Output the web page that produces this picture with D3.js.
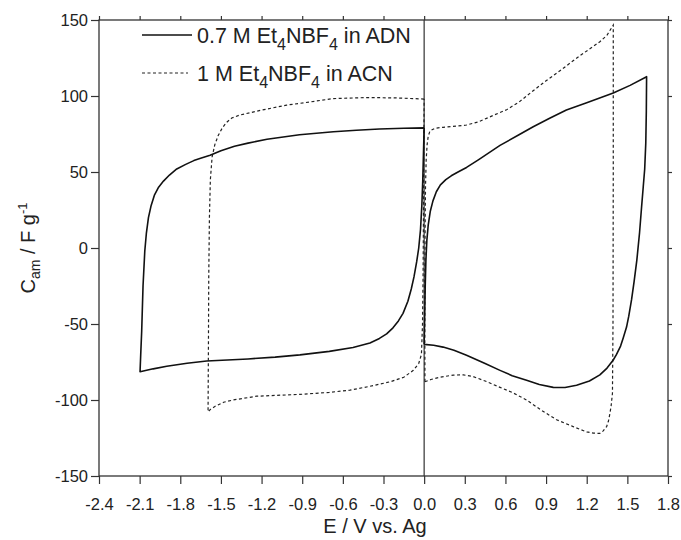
<!DOCTYPE html>
<html>
<head>
<meta charset="utf-8">
<script src="https://cdn.jsdelivr.net/npm/d3@7"></script>
<style>
  body { margin: 0; background: #fff; }
  text { font-family: "Liberation Sans", Arial, sans-serif; fill: #222; }
</style>
</head>
<body>
<div id="chart"></div>
<script>
// 0.7 M Et4NBF4 in ADN, negative half cycle [E (V), C (F/g)]
const adnNeg = [
  [0, 79], [-0.15, 78.8], [-0.33, 78.3], [-0.5, 77.5], [-0.67, 76.5], [-0.92, 74.5],
  [-1.16, 71.5], [-1.3, 69], [-1.4, 67], [-1.5, 64], [-1.58, 61], [-1.65, 59],
  [-1.70, 57.5], [-1.76, 55], [-1.826, 52], [-1.88, 48], [-1.924, 44], [-1.96, 40],
  [-1.99, 35], [-2.015, 28], [-2.035, 20], [-2.05, 10], [-2.062, -2], [-2.075, -25],
  [-2.085, -55], [-2.092, -70], [-2.097, -81.4],
  [-2.0, -79.5], [-1.9, -77.8], [-1.75, -75.8], [-1.605, -74.3], [-1.3, -73],
  [-1.1, -71.8], [-0.917, -70.3], [-0.7, -68], [-0.525, -65.5], [-0.4, -62.5],
  [-0.33, -59.5], [-0.277, -56.5], [-0.23, -52.5], [-0.19, -48], [-0.156, -43],
  [-0.12, -35], [-0.095, -27], [-0.075, -19], [-0.055, -9], [-0.04, 0],
  [-0.027, 12], [-0.017, 28], [-0.01, 45], [-0.005, 62], [0, 79]
];
// 0.7 M Et4NBF4 in ADN, positive half cycle
const adnPos = [
  [0, -63.4], [0.004, -45], [0.008, -25], [0.013, -8], [0.02, 5], [0.03, 15],
  [0.045, 24], [0.065, 31], [0.09, 37], [0.12, 41.5], [0.16, 45], [0.2, 47.5],
  [0.25, 50], [0.313, 53], [0.4, 58], [0.56, 67.5], [0.7, 74.5], [0.805, 79.8],
  [0.93, 85.5], [1.05, 90.8], [1.2, 95.5], [1.396, 102], [1.52, 107], [1.642, 112.7],
  [1.640, 90], [1.636, 69], [1.628, 52], [1.617, 40], [1.605, 27], [1.59, 10],
  [1.57, -8], [1.55, -22], [1.531, -34], [1.51, -45], [1.494, -52], [1.47, -59],
  [1.45, -64.5], [1.42, -70], [1.396, -73.7], [1.35, -79], [1.297, -83.5],
  [1.22, -87.5], [1.125, -90.3], [1.04, -91.8], [0.953, -91.7], [0.85, -89.8],
  [0.756, -87], [0.65, -84], [0.56, -80.5], [0.45, -76], [0.313, -70.5],
  [0.22, -67.3], [0.14, -65.2], [0.07, -64], [0, -63.4]
];
// 1 M Et4NBF4 in ACN, negative half cycle
const acnNeg = [
  [0, 98], [-0.2, 98.7], [-0.42, 99], [-0.67, 98.3], [-0.85, 96], [-1.015, 94],
  [-1.21, 90.5], [-1.36, 87.5], [-1.42, 85.5], [-1.46, 82.5], [-1.49, 79],
  [-1.52, 74], [-1.545, 68], [-1.565, 60], [-1.578, 45], [-1.585, 20], [-1.59, -20],
  [-1.592, -60], [-1.595, -107.7], [-1.575, -106], [-1.54, -104], [-1.48, -101.5],
  [-1.41, -100], [-1.235, -97.5], [-0.917, -96.3], [-0.7, -95], [-0.548, -93.5],
  [-0.4, -91], [-0.25, -88], [-0.15, -85], [-0.08, -80.5], [-0.04, -76],
  [-0.02, -70], [-0.012, -50], [-0.008, -20], [-0.005, 20], [-0.003, 60], [0, 98]
];
// 1 M Et4NBF4 in ACN, positive half cycle
const acnPos = [
  [0.006, -88], [0.005, -60], [0.005, -30], [0.007, 10], [0.01, 40], [0.015, 58],
  [0.022, 68], [0.03, 73.5], [0.043, 77], [0.08, 78.8], [0.14, 79.4], [0.313, 80.9],
  [0.4, 83], [0.46, 85.3], [0.609, 91], [0.7, 96], [0.805, 103.5], [0.9, 110],
  [1.0, 116.5], [1.15, 126.5], [1.297, 135.7], [1.35, 140], [1.396, 146.7],
  [1.396, 50], [1.394, -50], [1.39, -95.6], [1.38, -104], [1.371, -109],
  [1.36, -114], [1.347, -117.5], [1.32, -120.5], [1.297, -122], [1.25, -121.8],
  [1.2, -121], [1.1, -117.5], [0.978, -113], [0.87, -107], [0.756, -100],
  [0.65, -95], [0.56, -91.7], [0.45, -87.5], [0.362, -84.6], [0.29, -83.5],
  [0.215, -83.6], [0.117, -85], [0.05, -86.5], [0.006, -88]
];

const xTicks = [-2.4, -2.1, -1.8, -1.5, -1.2, -0.9, -0.6, -0.3, 0, 0.3, 0.6, 0.9, 1.2, 1.5, 1.8];
const yTicks = [-150, -100, -50, 0, 50, 100, 150];

const width = 681, height = 540;
const margin = { top: 20, right: 13, bottom: 64, left: 99 };
const innerW = width - margin.left - margin.right;
const innerH = height - margin.top - margin.bottom;

const svg = d3.select('#chart').append('svg')
  .attr('width', width)
  .attr('height', height);

const plot = svg.append('g')
  .attr('transform', `translate(${margin.left},${margin.top})`);

const x = d3.scaleLinear().domain([-2.4, 1.8]).range([0, innerW]);
const y = d3.scaleLinear().domain([-150, 150]).range([innerH, 0]);

// axes, ticks on all four sides
const xAxis = d3.axisBottom(x).tickValues(xTicks).tickSize(8).tickSizeOuter(0)
  .tickPadding(14).tickFormat(d => d.toFixed(1));
const yAxis = d3.axisLeft(y).tickValues(yTicks).tickSize(8).tickSizeOuter(0)
  .tickPadding(3).tickFormat(d => String(d));

const gx = plot.append('g').attr('transform', `translate(0,${innerH})`).call(xAxis);
const gy = plot.append('g').call(yAxis);
const gt = plot.append('g').call(d3.axisTop(x).tickValues(xTicks).tickSize(4).tickSizeOuter(0).tickFormat(''));
const gr = plot.append('g').attr('transform', `translate(${innerW},0)`)
  .call(d3.axisRight(y).tickValues(yTicks).tickSize(4).tickSizeOuter(0).tickFormat(''));

[gx, gy, gt, gr].forEach(g => {
  g.select('.domain').remove();
  g.selectAll('line').attr('stroke', '#333').attr('stroke-width', 1.2);
  g.selectAll('text').style('font-size', '16.5px').attr('fill', '#222');
});

// frame
plot.append('rect')
  .attr('width', innerW).attr('height', innerH)
  .attr('fill', 'none').attr('stroke', '#333').attr('stroke-width', 1.3);

// reference line at E = 0
plot.append('line')
  .attr('x1', x(0)).attr('x2', x(0)).attr('y1', 0).attr('y2', innerH)
  .attr('stroke', '#333').attr('stroke-width', 1.2);

// curves
const line = d3.line()
  .x(d => x(d[0]))
  .y(d => y(d[1]));

[acnNeg, acnPos].forEach(s => {
  plot.append('path').datum(s)
    .attr('d', line).attr('fill', 'none')
    .attr('stroke', '#222').attr('stroke-width', 1.2)
    .attr('stroke-dasharray', '3,2.5');
});
[adnNeg, adnPos].forEach(s => {
  plot.append('path').datum(s)
    .attr('d', line).attr('fill', 'none')
    .attr('stroke', '#111').attr('stroke-width', 1.6)
    .attr('stroke-linejoin', 'round');
});

// legend
const legend = svg.append('g');
legend.append('line').attr('x1', 142).attr('x2', 192).attr('y1', 35).attr('y2', 35)
  .attr('stroke', '#111').attr('stroke-width', 1.6);
legend.append('line').attr('x1', 142).attr('x2', 188).attr('y1', 73).attr('y2', 73)
  .attr('stroke', '#222').attr('stroke-width', 1.2).attr('stroke-dasharray', '3,2.5');

function chem(t, pre) {
  t.append('tspan').text(pre + 'Et');
  t.append('tspan').text('4').attr('dy', 7).style('font-size', '16px');
  t.append('tspan').text('NBF').attr('dy', -7);
  t.append('tspan').text('4').attr('dy', 7).style('font-size', '16px');
  t.append('tspan').text(' in ').attr('dy', -7);
}
const t1 = legend.append('text').attr('x', 197).attr('y', 42.5).style('font-size', '21.5px');
chem(t1, '0.7 M ');
t1.append('tspan').text('ADN');
const t2 = legend.append('text').attr('x', 197).attr('y', 80.5).style('font-size', '21.5px');
chem(t2, '1 M ');
t2.append('tspan').text('ACN');

// axis titles
svg.append('text')
  .attr('x', 375).attr('y', 533)
  .attr('text-anchor', 'middle')
  .style('font-size', '20px')
  .text('E / V vs. Ag');

const yl = svg.append('text')
  .attr('transform', `translate(35,${margin.top + innerH / 2}) rotate(-90)`)
  .attr('text-anchor', 'middle')
  .style('font-size', '20px');
yl.append('tspan').text('C');
yl.append('tspan').text('am').attr('dy', 5).style('font-size', '14px');
yl.append('tspan').text(' / F g').attr('dy', -5);
yl.append('tspan').text('-1').attr('dy', -8).style('font-size', '13px');
</script>
</body>
</html>
